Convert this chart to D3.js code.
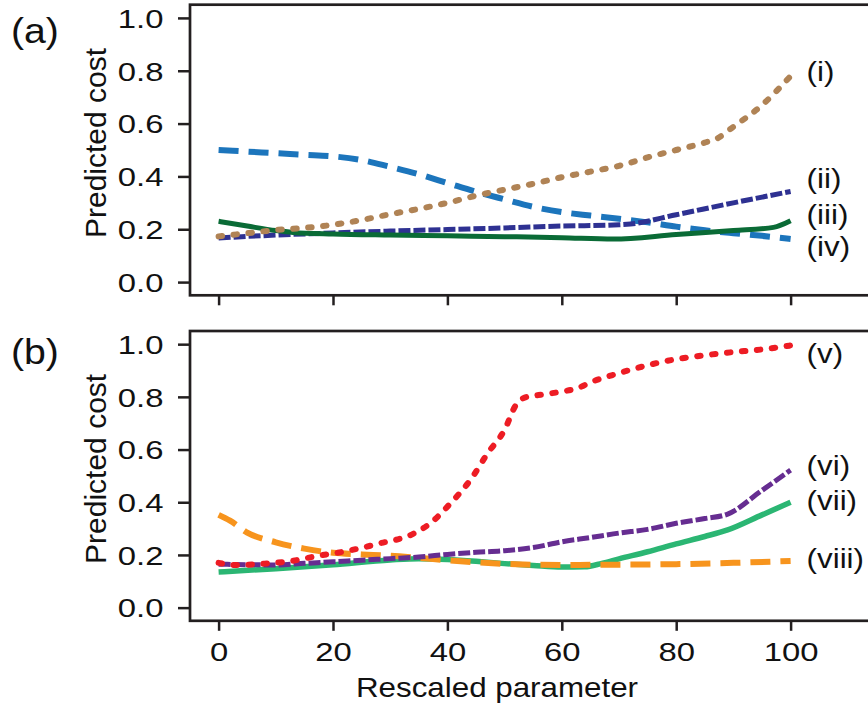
<!DOCTYPE html>
<html>
<head>
<meta charset="utf-8">
<script src="https://cdn.jsdelivr.net/npm/d3@7"></script>
<style>
  html, body { margin: 0; padding: 0; background: #fff; }
  svg { display: block; }
  text { font-family: "Liberation Sans", Arial, Helvetica, sans-serif; fill: #111; }
</style>
</head>
<body>
<svg id="chart" width="868" height="712"></svg>
<script>
// ---------------- data ----------------
const xTicks = [0, 20, 40, 60, 80, 100];
const yTicks = [0, 0.2, 0.4, 0.6, 0.8, 1.0];

// panel (a)
const seriesI = [[0,0.173],[5,0.185],[10,0.197],[15,0.205],[20,0.217],[25,0.235],[30,0.257],[35,0.277],[40,0.30],[45,0.327],[50,0.35],[55,0.372],[60,0.397],[65,0.418],[70,0.44],[75,0.472],[80,0.50],[85,0.528],[87,0.542],[90,0.588],[95,0.67],[100,0.78]];
const seriesII = [[0,0.167],[10,0.178],[20,0.186],[30,0.193],[40,0.199],[50,0.205],[60,0.212],[70,0.217],[72,0.22],[80,0.255],[90,0.30],[100,0.343]];
const seriesIII = [[0,0.23],[5,0.212],[10,0.195],[13,0.188],[20,0.182],[30,0.178],[40,0.175],[50,0.172],[60,0.168],[69,0.163],[80,0.18],[90,0.195],[97,0.207],[100,0.232]];
const seriesIV = [[0,0.50],[5,0.494],[10,0.488],[15,0.482],[20,0.476],[25,0.462],[30,0.436],[35,0.408],[40,0.375],[45,0.342],[50,0.313],[55,0.285],[60,0.265],[65,0.252],[70,0.24],[75,0.226],[80,0.21],[85,0.196],[90,0.185],[95,0.175],[100,0.163]];

// panel (b)
const seriesV = [[0,0.17],[3,0.162],[8,0.167],[13,0.178],[17,0.195],[22,0.213],[28,0.243],[34,0.28],[37,0.32],[40.5,0.395],[44,0.484],[47,0.585],[50,0.675],[52,0.77],[53.5,0.797],[57,0.81],[60,0.82],[63,0.835],[65,0.855],[70,0.89],[75,0.92],[80,0.943],[85,0.958],[90,0.97],[95,0.98],[100,0.995]];
const seriesVI = [[0,0.165],[5,0.163],[10,0.162],[15,0.168],[20,0.174],[25,0.18],[30,0.186],[35,0.192],[40,0.202],[45,0.21],[50,0.216],[55,0.228],[60,0.25],[65,0.266],[70,0.283],[75,0.297],[80,0.32],[85,0.338],[89,0.355],[95,0.445],[100,0.522]];
const seriesVII = [[0,0.135],[10,0.148],[20,0.163],[30,0.181],[35,0.186],[40,0.183],[45,0.176],[50,0.167],[55,0.16],[60,0.154],[64,0.155],[67,0.168],[70,0.185],[75,0.212],[80,0.242],[85,0.27],[89,0.295],[95,0.352],[100,0.40]];
const seriesVIII = [[0,0.352],[2,0.33],[5,0.285],[10,0.248],[15,0.224],[20,0.208],[25,0.202],[30,0.197],[35,0.189],[40,0.18],[45,0.172],[50,0.166],[55,0.163],[60,0.162],[70,0.163],[80,0.165],[90,0.17],[100,0.177]];

const labelsA = ["(i)", "(ii)", "(iii)", "(iv)"];
const labelValsA = [0.762, 0.357, 0.219, 0.0995];
const labelsB = ["(v)", "(vi)", "(vii)", "(viii)"];
const labelValsB = [0.929, 0.505, 0.372, 0.150];

const panelTitles = ["(a)", "(b)"];
const yLabel = "Predicted cost";
const xLabel = "Rescaled parameter";

// ---------------- drawing ----------------
const svg = d3.select("#chart");
const INK = "#231f20";
const TICK_FS = 26.5, TICK_SX = 1.24;

const x = d3.scaleLinear().domain([-5, 115]).range([190, 876.4]);

const panels = [
  { top: 4.7, bottom: 295.3, title: panelTitles[0], titleY: 42.5, showX: false,
    series: [
      { data: seriesIV, color: "#1c75bc", width: 6, dash: "20,10", cap: "butt" },
      { data: seriesII, color: "#2e3192", width: 5, dash: "12,3", cap: "butt" },
      { data: seriesIII, color: "#0a6b36", width: 5, dash: null, cap: "butt" },
      { data: seriesI, color: "#b08355", width: 6, dash: "3.5,11.5", cap: "round" }
    ],
    labels: labelsA, labelVals: labelValsA },
  { top: 331, bottom: 620.8, title: panelTitles[1], titleY: 363.5, showX: true,
    series: [
      { data: seriesVII, color: "#2bb673", width: 5.5, dash: null, cap: "butt" },
      { data: seriesVIII, color: "#f7941d", width: 6, dash: "20,10", cap: "butt" },
      { data: seriesVI, color: "#662d91", width: 5, dash: "12,3", cap: "butt" },
      { data: seriesV, color: "#ed1c24", width: 6, dash: "3.5,11.5", cap: "round" }
    ],
    labels: labelsB, labelVals: labelValsB }
];

function stretchedText(parent, px, py, sx, size, str, anchor) {
  return parent.append("text")
    .attr("transform", `translate(${px},${py}) scale(${sx},1)`)
    .attr("text-anchor", anchor || "start")
    .attr("font-size", size)
    .text(str);
}

panels.forEach(p => {
  const y = d3.scaleLinear().domain([-0.05, 1.05]).range([p.bottom, p.top]);
  const g = svg.append("g");

  const clipId = "clip" + Math.round(p.top);
  svg.append("clipPath").attr("id", clipId)
    .append("rect").attr("x", 190).attr("y", p.top).attr("width", 700).attr("height", p.bottom - p.top);

  const line = d3.line().x(d => x(d[0])).y(d => y(d[1])).curve(d3.curveMonotoneX);
  const lg = g.append("g").attr("clip-path", `url(#${clipId})`);
  p.series.forEach(s => {
    lg.append("path")
      .attr("d", line(s.data))
      .attr("fill", "none")
      .attr("stroke", s.color)
      .attr("stroke-width", s.width)
      .attr("stroke-linecap", s.cap)
      .attr("stroke-linejoin", "round")
      .attr("stroke-dasharray", s.dash);
  });

  // frame
  g.append("rect")
    .attr("x", 190).attr("y", p.top)
    .attr("width", 700).attr("height", p.bottom - p.top)
    .attr("fill", "none").attr("stroke", INK).attr("stroke-width", 2.7);

  // y axis
  const yAxis = g.append("g").attr("transform", "translate(190,0)")
    .call(d3.axisLeft(y).tickValues(yTicks).tickFormat(d3.format(".1f")).tickSize(12).tickPadding(14));
  yAxis.select(".domain").remove();
  yAxis.selectAll(".tick line").attr("stroke", INK).attr("stroke-width", 2.5);
  yAxis.selectAll(".tick text")
    .attr("x", 0).attr("dy", "0.35em")
    .attr("transform", `translate(-26.5,0) scale(${TICK_SX},1)`)
    .attr("font-size", TICK_FS)
    .style("font-family", "Liberation Sans, Arial, sans-serif").attr("fill", "#111");

  // x axis
  const xAxis = g.append("g").attr("transform", `translate(0,${p.bottom})`)
    .call(d3.axisBottom(x).tickValues(xTicks).tickFormat(p.showX ? d3.format("d") : "").tickSize(10).tickPadding(11));
  xAxis.select(".domain").remove();
  xAxis.selectAll(".tick line").attr("stroke", INK).attr("stroke-width", 2.5);
  xAxis.selectAll(".tick text")
    .attr("transform", `scale(${TICK_SX},1)`)
    .attr("font-size", TICK_FS)
    .style("font-family", "Liberation Sans, Arial, sans-serif").attr("fill", "#111");

  // y label
  const cy = (p.top + p.bottom) / 2 - 7;
  g.append("text")
    .attr("transform", `translate(106,${cy}) rotate(-90)`)
    .attr("text-anchor", "middle")
    .attr("font-size", 30)
    .text(yLabel);

  // panel title
  stretchedText(g, 11, p.titleY, 1.12, 35, p.title);

  // curve labels
  p.labels.forEach((t, i) => {
    stretchedText(g, x(102.8), y(p.labelVals[i]), 1.16, 27, t);
  });
});

// x label
stretchedText(svg, 497, 697, 1.1, 28.5, xLabel, "middle");
</script>
</body>
</html>
